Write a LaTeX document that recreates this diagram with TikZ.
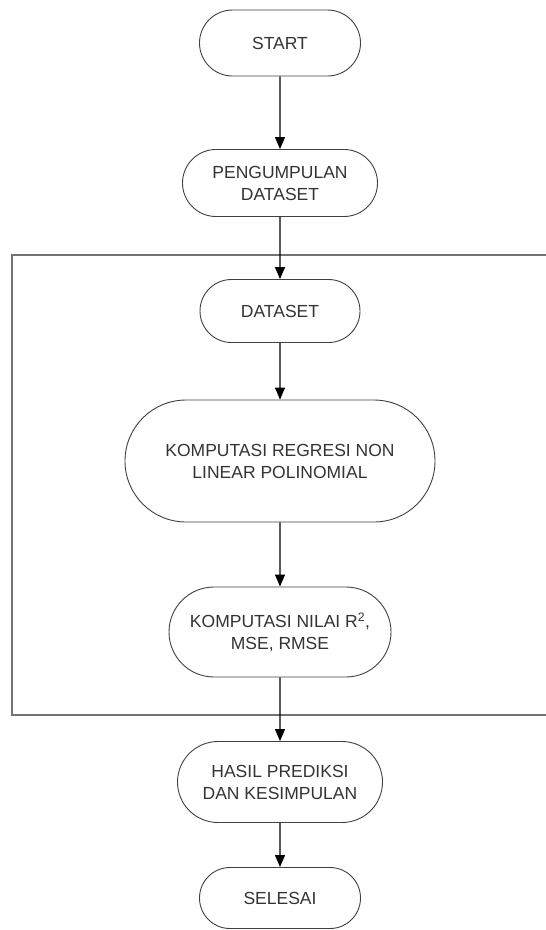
\documentclass[tikz,border=0pt]{standalone}
\usepackage{fontspec}
\setmainfont{Liberation Sans}
\usetikzlibrary{shapes.misc,arrows.meta}

\begin{document}
\begin{tikzpicture}
      [x=1pt,y=-1pt,>={Triangle[length=12pt,width=10pt]},
       flow node/.style={rounded rectangle,draw=black!75,line width=0.9pt,align=center,inner sep=0pt,
         font=\fontsize{17.5}{22}\selectfont,text=black!80},
       flow arrow/.style={->,line width=1.3pt}]
        \useasboundingbox (0,0) rectangle (546,930);

        \node[flow node,minimum width=161pt,minimum height=66pt] (start) at (280,43) {START};
        \node[flow node,minimum width=195pt,minimum height=67pt] (kumpul) at (280,183) {PENGUMPULAN\\DATASET};
        \node[flow node,minimum width=160pt,minimum height=63pt] (data) at (280,311) {DATASET};
        \node[flow node,minimum width=310pt,minimum height=122pt] (regresi) at (280,461) {KOMPUTASI REGRESI NON\\LINEAR POLINOMIAL};
        \node[flow node,minimum width=222pt,minimum height=90pt] (nilai) at (280,632) {KOMPUTASI NILAI R\textsuperscript{2},\\MSE, RMSE};
        \node[flow node,minimum width=205pt,minimum height=81pt] (hasil) at (280,782) {HASIL PREDIKSI\\DAN KESIMPULAN};
        \node[flow node,minimum width=161pt,minimum height=61pt] (selesai) at (280,898) {SELESAI};

        % bingkai proses
        \draw[draw=black!55,line width=1.6pt] (546,255) -| (12,715) -- (546,715);

        \draw[flow arrow] (start) -- (kumpul);
        \draw[flow arrow] (kumpul) -- (data);
        \draw[flow arrow] (data) -- (regresi);
        \draw[flow arrow] (regresi) -- (nilai);
        \draw[flow arrow] (nilai) -- (hasil);
        \draw[flow arrow] (hasil) -- (selesai);

      \end{tikzpicture}
\end{document}
